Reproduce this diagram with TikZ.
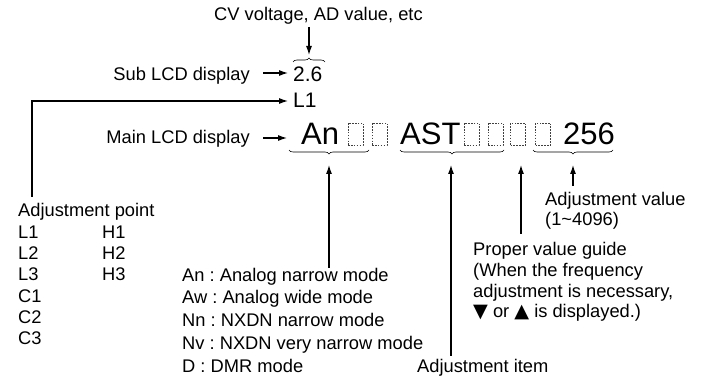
\documentclass[tikz,border=0pt]{standalone}
\usepackage{fontspec}
\setmainfont{Liberation Sans}
\newfontfamily\symfont{DejaVu Sans}[Scale=1.05]
\usetikzlibrary{arrows.meta,decorations.pathreplacing}
\frenchspacing

\tikzset{
  lbl/.style={inner sep=0pt, font=\fontsize{18.3}{20.5}\selectfont},
  midtxt/.style={inner sep=0pt, font=\fontsize{21}{24}\selectfont},
  bigtxt/.style={inner sep=0pt, font=\fontsize{31}{36}\selectfont},
  cell/.style={draw=black!75, line width=0.7pt, dash pattern=on 1.6pt off 1.3pt,
    minimum width=15pt, minimum height=22pt, inner sep=0pt},
  arr/.style={line width=1.1pt, -{Latex[length=9pt,width=6pt]}},
  brc/.style={line width=0.6pt, decorate, decoration={brace, amplitude=4pt}}
}

\begin{document}
\begin{tikzpicture}[x=1pt, y=-1pt]
  \useasboundingbox (0,0) rectangle (701,379);

  % Sub LCD display
  \node[lbl, anchor=base west] (cv) at (214,21) {CV voltage, AD value, etc};
  \node[lbl, anchor=base east] (sub) at (250,81) {Sub LCD display};
  \node[midtxt, anchor=base west] (subval) at (293,82) {2.6};
  \node[midtxt, anchor=base west] (subpt) at (293,108) {L1};
  \draw[brc] (293,62) -- (325,62);
  \coordinate (subtip) at (309,55);
  \draw[arr] ([yshift=-2pt]cv.south -| subtip) -- (subtip);
  \draw[arr] ([shift={(13pt,8pt)}]sub.base east) -- ([shift={(-5pt,9pt)}]subval.base west);

  % Main LCD display
  \node[lbl, anchor=base east] (main) at (250,144) {Main LCD display};
  \node[bigtxt, anchor=base west] (an) at (301,145) {An};
  \node[cell] (c1) at (355.5,134) {};
  \node[cell] (c2) at (379.5,134) {};
  \node[bigtxt, anchor=base west] (ast) at (400,145) {AST};
  \node[cell] (c3) at (471.5,134) {};
  \node[cell] (c4) at (495.5,134) {};
  \node[cell] (c5) at (518,134) {};
  \node[cell] (c6) at (543,134) {};
  \node[bigtxt, anchor=base west] (val) at (563,145) {256};
  \draw[arr] ([shift={(13pt,6pt)}]main.base east) -- ([shift={(-14pt,7pt)}]an.base west);

  % Braces under the main display
  \draw[brc] (369,150) -- (289,150);
  \draw[brc] (504,150) -- (400,150);
  \draw[brc] (613,150) -- (533,150);
  \coordinate (tipA) at (329,165);
  \coordinate (tipB) at (451,165);
  \coordinate (tipG) at (521,165);
  \coordinate (tipV) at (573,165);

  % Adjustment point
  \node[lbl, anchor=base west] (adjpt) at (18,217) {Adjustment point};
  \foreach \t [count=\i] in {L1,L2,L3,C1,C2,C3}
    \node[lbl, anchor=base west] (p\i) at (18,{217+21.3*\i}) {\t};
  \foreach \t [count=\i] in {H1,H2,H3}
    \node[lbl, anchor=base west] (h\i) at (102,{217+21.3*\i}) {\t};
  \draw[arr] ([shift={(14pt,7pt)}]adjpt.north west) |- ([shift={(-5pt,7pt)}]subpt.base west);

  % Modes
  \foreach \t [count=\i] in {An : Analog narrow mode, Aw : Analog wide mode,
      Nn : NXDN narrow mode, Nv : NXDN very narrow mode, D : DMR mode}
    \node[lbl, anchor=base west] (m\i) at (182,{258.25+22.75*\i}) {\t};
  \draw[arr] (m1.north -| tipA) -- (tipA);

  % Adjustment item
  \node[lbl, anchor=base west] (item) at (417,372) {Adjustment item};
  \draw[arr] ([yshift=3pt]item.north -| tipB) -- (tipB);

  % Proper value guide
  \node[lbl, anchor=base west] (g1) at (473,256) {Proper value guide};
  \node[lbl, anchor=base west] (g2) at (473,276.5) {(When the frequency};
  \node[lbl, anchor=base west] (g3) at (473,297) {adjustment is necessary,};
  \node[lbl, anchor=base west] (g4) at (473,317.5) {{\symfont ▼} or {\symfont ▲} is displayed.)};
  \draw[arr] ([yshift=9pt]g1.north -| tipG) -- (tipG);

  % Adjustment value
  \node[lbl, anchor=base west] (v1) at (545,206) {Adjustment value};
  \node[lbl, anchor=base west] (v2) at (545,226) {(1\textasciitilde 4096)};
  \draw[arr] ([yshift=7pt]v1.north -| tipV) -- (tipV);

\end{tikzpicture}
\end{document}
